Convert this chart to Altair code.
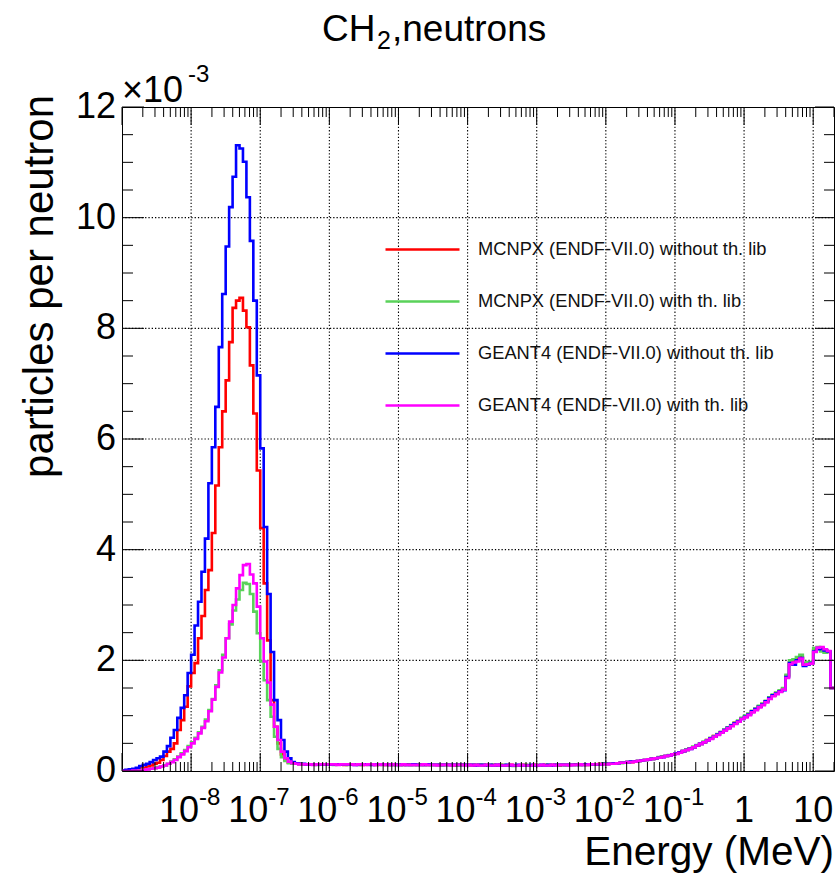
import altair as alt
import numpy as np
import pandas as pd

FONT = "Liberation Sans"

# ---------------- data (values in units of 1e-3 particles per neutron) -------------
LABELS = [
    "MCNPX (ENDF-VII.0) without th. lib",
    "MCNPX (ENDF-VII.0) with th. lib",
    "GEANT4 (ENDF-VII.0) without th. lib",
    "GEANT4 (ENDF-VII.0) with th. lib",
]
COLORS = ["#ff0000", "#5ad25a", "#0000ff", "#ff00ff"]

# histogram binning: 20 log bins per decade starting at 1e-9 MeV
LOG_MIN = -9.0
BINS_PER_DECADE = 20

# thermal peak region (bins 0-49)
red_peak = [0.01, 0.01, 0.02, 0.02, 0.03, 0.05, 0.06, 0.08, 0.10, 0.13,
            0.15, 0.20, 0.27, 0.35, 0.40, 0.50, 0.74, 0.92, 1.16, 1.53,
            1.77, 1.95, 2.40, 2.80, 3.27, 3.63, 4.30, 5.16, 5.85, 6.50,
            7.06, 7.75, 8.37, 8.50, 8.55, 8.32, 8.02, 7.33, 6.46, 5.43,
            4.39, 3.39, 2.36, 1.28, 0.80, 0.50, 0.30, 0.20, 0.15, 0.13]
green_peak = [0.00, 0.00, 0.01, 0.01, 0.01, 0.02, 0.02, 0.03, 0.04, 0.05,
              0.07, 0.08, 0.10, 0.13, 0.17, 0.21, 0.26, 0.32, 0.38, 0.45,
              0.52, 0.60, 0.70, 0.80, 0.93, 1.10, 1.30, 1.55, 1.82, 2.10,
              2.40, 2.65, 2.90, 3.10, 3.27, 3.40, 3.38, 3.20, 2.88, 2.49,
              1.98, 1.64, 1.28, 0.98, 0.62, 0.40, 0.25, 0.18, 0.14, 0.13]
blue_peak = [0.01, 0.02, 0.03, 0.04, 0.06, 0.09, 0.11, 0.13, 0.16, 0.20,
             0.23, 0.26, 0.35, 0.45, 0.60, 0.74, 0.96, 1.14, 1.37, 1.77,
             2.10, 2.63, 3.06, 3.60, 4.20, 5.20, 5.85, 6.58, 7.66, 8.62,
             9.48, 10.19, 10.74, 11.31, 11.25, 11.01, 10.37, 9.58, 8.50, 7.15,
             5.83, 4.41, 3.20, 2.15, 1.28, 0.92, 0.56, 0.35, 0.23, 0.16]
magenta_peak = [0.00, 0.00, 0.00, 0.01, 0.01, 0.01, 0.02, 0.03, 0.04, 0.05,
                0.06, 0.08, 0.10, 0.13, 0.16, 0.20, 0.25, 0.30, 0.36, 0.43,
                0.50, 0.58, 0.68, 0.78, 0.90, 1.08, 1.29, 1.52, 1.78, 2.05,
                2.40, 2.70, 3.00, 3.30, 3.54, 3.72, 3.74, 3.55, 3.39, 2.97,
                2.40, 1.98, 1.60, 1.20, 0.80, 0.56, 0.35, 0.23, 0.17, 0.14]

# epithermal plateau (bins 50-139)
red_flat = [0.13, 0.13, 0.12, 0.12, 0.12, 0.12, 0.12, 0.12, 0.12, 0.12,
            0.12, 0.12, 0.12, 0.12, 0.11, 0.12, 0.12, 0.12, 0.12, 0.11,
            0.12, 0.12, 0.12, 0.11, 0.12, 0.12, 0.11, 0.12, 0.11, 0.12,
            0.11, 0.11, 0.12, 0.11, 0.11, 0.11, 0.12, 0.11, 0.11, 0.11,
            0.11, 0.11, 0.11, 0.11, 0.11, 0.11, 0.10, 0.11, 0.11, 0.11,
            0.11, 0.10, 0.11, 0.11, 0.10, 0.11, 0.10, 0.11, 0.10, 0.11,
            0.10, 0.10, 0.11, 0.10, 0.10, 0.10, 0.11, 0.10, 0.10, 0.11,
            0.10, 0.10, 0.11, 0.10, 0.11, 0.11, 0.10, 0.11, 0.11, 0.11,
            0.11, 0.12, 0.11, 0.12, 0.11, 0.12, 0.12, 0.12, 0.13, 0.13]
green_flat = [0.13, 0.12, 0.12, 0.12, 0.12, 0.12, 0.11, 0.12, 0.12, 0.12,
              0.12, 0.11, 0.12, 0.12, 0.12, 0.11, 0.12, 0.12, 0.11, 0.12,
              0.12, 0.11, 0.12, 0.12, 0.11, 0.12, 0.11, 0.12, 0.11, 0.11,
              0.12, 0.11, 0.11, 0.11, 0.11, 0.12, 0.11, 0.11, 0.11, 0.11,
              0.11, 0.11, 0.10, 0.11, 0.11, 0.11, 0.11, 0.10, 0.11, 0.11,
              0.10, 0.11, 0.11, 0.10, 0.11, 0.10, 0.10, 0.11, 0.10, 0.10,
              0.11, 0.10, 0.10, 0.09, 0.10, 0.10, 0.11, 0.10, 0.10, 0.10,
              0.11, 0.10, 0.10, 0.11, 0.10, 0.10, 0.11, 0.11, 0.10, 0.11,
              0.11, 0.11, 0.11, 0.12, 0.11, 0.12, 0.12, 0.12, 0.12, 0.13]
blue_flat = [0.14, 0.13, 0.13, 0.12, 0.12, 0.12, 0.12, 0.12, 0.12, 0.12,
             0.12, 0.12, 0.12, 0.12, 0.12, 0.12, 0.12, 0.11, 0.12, 0.12,
             0.12, 0.12, 0.11, 0.12, 0.12, 0.12, 0.12, 0.11, 0.12, 0.11,
             0.11, 0.12, 0.11, 0.11, 0.12, 0.11, 0.11, 0.11, 0.12, 0.11,
             0.11, 0.11, 0.11, 0.11, 0.11, 0.11, 0.11, 0.11, 0.11, 0.11,
             0.11, 0.11, 0.10, 0.11, 0.11, 0.10, 0.11, 0.10, 0.11, 0.10,
             0.10, 0.11, 0.10, 0.10, 0.11, 0.10, 0.10, 0.10, 0.11, 0.10,
             0.10, 0.11, 0.10, 0.11, 0.10, 0.11, 0.11, 0.11, 0.11, 0.11,
             0.11, 0.11, 0.12, 0.11, 0.12, 0.12, 0.12, 0.12, 0.12, 0.13]
magenta_flat = [0.13, 0.12, 0.12, 0.12, 0.12, 0.11, 0.12, 0.12, 0.12, 0.12,
                0.12, 0.12, 0.11, 0.12, 0.12, 0.12, 0.12, 0.11, 0.12, 0.12,
                0.11, 0.12, 0.12, 0.11, 0.12, 0.11, 0.12, 0.11, 0.12, 0.11,
                0.11, 0.12, 0.11, 0.11, 0.11, 0.11, 0.11, 0.12, 0.11, 0.11,
                0.11, 0.10, 0.11, 0.11, 0.11, 0.10, 0.11, 0.11, 0.11, 0.10,
                0.11, 0.10, 0.11, 0.10, 0.10, 0.11, 0.10, 0.10, 0.11, 0.10,
                0.10, 0.10, 0.11, 0.10, 0.10, 0.11, 0.10, 0.10, 0.10, 0.11,
                0.10, 0.11, 0.10, 0.10, 0.11, 0.10, 0.11, 0.11, 0.11, 0.10,
                0.11, 0.11, 0.12, 0.11, 0.11, 0.12, 0.12, 0.12, 0.12, 0.12]

# fast region (bins 140-205)
red_fast = [0.13, 0.13, 0.13, 0.14, 0.15, 0.15, 0.16, 0.16, 0.17, 0.18,
            0.19, 0.20, 0.21, 0.22, 0.23, 0.24, 0.26, 0.27, 0.28, 0.30,
            0.32, 0.34, 0.36, 0.38, 0.41, 0.43, 0.46, 0.49, 0.52, 0.56,
            0.59, 0.63, 0.66, 0.70, 0.74, 0.78, 0.82, 0.87, 0.90, 0.95,
            0.98, 1.03, 1.07, 1.12, 1.17, 1.21, 1.26, 1.31, 1.36, 1.41,
            1.44, 1.48, 1.72, 1.96, 1.98, 2.02, 2.06, 1.93, 1.94, 1.96,
            2.18, 2.21, 2.20, 2.18, 2.15, 1.50]
green_fast = [0.12, 0.13, 0.14, 0.14, 0.14, 0.15, 0.16, 0.17, 0.17, 0.18,
              0.19, 0.20, 0.21, 0.22, 0.23, 0.25, 0.26, 0.27, 0.29, 0.30,
              0.32, 0.34, 0.36, 0.39, 0.41, 0.44, 0.47, 0.50, 0.53, 0.56,
              0.60, 0.63, 0.67, 0.71, 0.75, 0.79, 0.83, 0.87, 0.91, 0.96,
              1.00, 1.04, 1.09, 1.13, 1.18, 1.22, 1.27, 1.33, 1.38, 1.42,
              1.46, 1.50, 1.74, 2.00, 2.02, 2.06, 2.10, 1.95, 1.97, 1.96,
              2.22, 2.24, 2.16, 2.14, 2.16, 1.50]
blue_fast = [0.13, 0.13, 0.14, 0.14, 0.15, 0.15, 0.16, 0.17, 0.17, 0.18,
             0.19, 0.20, 0.21, 0.22, 0.23, 0.24, 0.25, 0.27, 0.28, 0.30,
             0.32, 0.34, 0.36, 0.38, 0.40, 0.43, 0.46, 0.49, 0.52, 0.55,
             0.59, 0.62, 0.66, 0.70, 0.74, 0.78, 0.82, 0.86, 0.90, 0.94,
             0.98, 1.02, 1.08, 1.12, 1.16, 1.20, 1.26, 1.32, 1.37, 1.40,
             1.44, 1.46, 1.70, 1.95, 1.92, 2.00, 2.04, 1.90, 1.92, 1.95,
             2.16, 2.20, 2.22, 2.18, 2.16, 1.50]
magenta_fast = [0.12, 0.13, 0.13, 0.14, 0.15, 0.15, 0.16, 0.16, 0.17, 0.18,
                0.19, 0.20, 0.21, 0.22, 0.23, 0.24, 0.25, 0.27, 0.28, 0.30,
                0.31, 0.33, 0.36, 0.38, 0.40, 0.43, 0.46, 0.49, 0.52, 0.55,
                0.58, 0.62, 0.65, 0.69, 0.73, 0.77, 0.81, 0.85, 0.89, 0.94,
                0.97, 1.01, 1.06, 1.10, 1.15, 1.19, 1.24, 1.30, 1.35, 1.39,
                1.43, 1.47, 1.68, 1.93, 1.96, 1.98, 2.03, 1.92, 1.93, 1.94,
                2.15, 2.23, 2.24, 2.20, 2.17, 1.50]

SERIES = [
    red_peak + red_flat + red_fast,
    green_peak + green_flat + green_fast,
    blue_peak + blue_flat + blue_fast,
    magenta_peak + magenta_flat + magenta_fast,
]

X_MAJOR_LABELS = [(1e-8, "10", "-8"), (1e-7, "10", "-7"), (1e-6, "10", "-6"),
                  (1e-5, "10", "-5"), (1e-4, "10", "-4"), (1e-3, "10", "-3"),
                  (1e-2, "10", "-2"), (1e-1, "10", "-1")]
X_PLAIN_LABELS = [(1.0, "1"), (10.0, "10")]
Y_LABELS = [0, 2, 4, 6, 8, 10, 12]
X_GRID = [1e-8, 1e-7, 1e-6, 1e-5, 1e-4, 1e-3, 1e-2, 1e-1, 1.0, 10.0]
Y_GRID = [2, 4, 6, 8, 10]

# ---------------- layout ----------------
W, H = 712, 664
X_DOMAIN = [1e-9, 20]
Y_DOMAIN = [0, 12]

xs = alt.Scale(type="log", domain=X_DOMAIN, nice=False)
ys = alt.Scale(domain=Y_DOMAIN, nice=False, zero=False)


def hist_df(vals, name):
    n = len(vals)
    edges = 10 ** (LOG_MIN + np.arange(n + 1) / BINS_PER_DECADE)
    return pd.DataFrame({"E": edges, "v": list(vals) + [vals[-1]], "series": name})


color = alt.Color(
    "series:N",
    scale=alt.Scale(domain=LABELS, range=COLORS),
    legend=alt.Legend(
        orient="none", legendX=262, legendY=104, direction="vertical",
        title=None, symbolType="stroke", symbolSize=5476, symbolStrokeWidth=2.5,
        labelFont=FONT, labelFontSize=18.3, labelColor="#111111", labelOffset=17,
        labelLimit=600, rowPadding=5, padding=0,
    ),
)

GRID_DASH = [1.3, 2.0]
layers = [
    alt.Chart(pd.DataFrame({"t": X_GRID})).mark_rule(color="black", strokeWidth=1.1,
                                                   strokeDash=GRID_DASH)
    .encode(x=alt.X("t:Q", scale=xs, axis=None), y=alt.value(0), y2=alt.value(H)),
    alt.Chart(pd.DataFrame({"t": Y_GRID})).mark_rule(color="black", strokeWidth=1.1,
                                                   strokeDash=GRID_DASH)
    .encode(y=alt.Y("t:Q", scale=ys, axis=None), x=alt.value(0), x2=alt.value(W)),
]

for vals, name in zip(SERIES, LABELS):
    layers.append(
        alt.Chart(hist_df(vals, name))
        .mark_line(interpolate="step-after", strokeWidth=2.6, clip=True)
        .encode(
            x=alt.X("E:Q", scale=xs, axis=None),
            y=alt.Y("v:Q", scale=ys, axis=None),
            color=color,
        )
    )

# ---- tick marks (ROOT style, inward on all four sides) ----
x_major = pd.DataFrame({"t": [10.0 ** d for d in range(-9, 2)]})
x_minor = pd.DataFrame({"t": [m * 10.0 ** d for d in range(-9, 2) for m in range(2, 10)
                              if m * 10.0 ** d <= X_DOMAIN[1]]})
y_major = pd.DataFrame({"t": [0, 2, 4, 6, 8, 10, 12]})
y_minor = pd.DataFrame({"t": [k * 0.5 for k in range(1, 24) if k % 4 != 0]})

tick_style = dict(color="black", strokeWidth=1)


def xticks(df, y0, y1):
    return alt.Chart(df).mark_rule(**tick_style).encode(
        x=alt.X("t:Q", scale=xs, axis=None), y=alt.value(y0), y2=alt.value(y1))


def yticks(df, x0, x1):
    return alt.Chart(df).mark_rule(**tick_style).encode(
        y=alt.Y("t:Q", scale=ys, axis=None), x=alt.value(x0), x2=alt.value(x1))


layers += [
    xticks(x_major, H, H - 18), xticks(x_major, 0, 18),
    xticks(x_minor, H, H - 9), xticks(x_minor, 0, 10),
    yticks(y_major, 0, 22), yticks(y_major, W, W - 19),
    yticks(y_minor, 0, 11), yticks(y_minor, W, W - 10),
]

# ---- tick labels ----
xl = pd.DataFrame(X_MAJOR_LABELS, columns=["t", "base", "exp"])
xp = pd.DataFrame(X_PLAIN_LABELS, columns=["t", "base"])
layers += [
    alt.Chart(xl).mark_text(font=FONT, fontSize=36, align="right", baseline="alphabetic",
                            dx=8, color="black")
    .encode(x=alt.X("t:Q", scale=xs, axis=None), y=alt.value(H + 51), text="base:N"),
    alt.Chart(xl).mark_text(font=FONT, fontSize=24, align="left", baseline="alphabetic",
                            dx=8, color="black")
    .encode(x=alt.X("t:Q", scale=xs, axis=None), y=alt.value(H + 34), text="exp:N"),
    alt.Chart(xp).mark_text(font=FONT, fontSize=36, align="center", baseline="alphabetic",
                            color="black")
    .encode(x=alt.X("t:Q", scale=xs, axis=None), y=alt.value(H + 51), text="base:N"),
    alt.Chart(pd.DataFrame({"t": Y_LABELS, "s": [str(v) for v in Y_LABELS]}))
    .mark_text(font=FONT, fontSize=36, align="right", baseline="middle", color="black")
    .encode(y=alt.Y("t:Q", scale=ys, axis=None), x=alt.value(-6), text="s:N"),
]


# ---- annotation texts: exponent factor, axis titles, chart title ----
def label(text, x, y, size, align="left", angle=0):
    kw = dict(font=FONT, fontSize=size, align=align, baseline="alphabetic", color="black")
    if angle:
        kw["angle"] = angle
    return alt.Chart(pd.DataFrame({"s": [text]})).mark_text(**kw).encode(
        x=alt.value(x), y=alt.value(y), text="s:N")


layers += [
    label("\u00d710", 0, -5, 36),
    label("-3", 66, -25, 24),
    label("Energy (MeV)", W, H + 94, 40.5, align="right"),
    label("particles per neutron", -69, -12, 42, align="right", angle=270),
    label("CH", 200, -66, 37),
    label("2", 255, -58, 25),
    label(",neutrons", 270, -66, 37),
]

chart = (
    alt.layer(*layers)
    .properties(
        width=W, height=H,
        autosize=alt.AutoSizeParams(type="none"),
        padding={"left": 122, "top": 107, "right": 4, "bottom": 102},
        background="white",
    )
    .configure_view(stroke="black", strokeWidth=1)
)

chart.save("out.html", embed_options={"renderer": "svg", "actions": False})
